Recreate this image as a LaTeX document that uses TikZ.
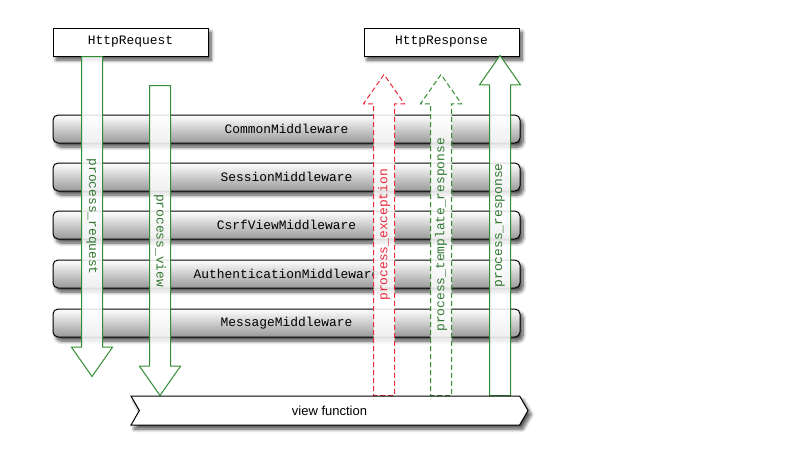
\documentclass[tikz,border=0pt]{standalone}
\usepackage{fontspec}
\setmainfont{Liberation Sans}
\setmonofont{Liberation Mono}
\usetikzlibrary{calc,shapes.arrows,shapes.symbols,shadows,shadows.blur}

\definecolor{flowgreen}{RGB}{50,140,50}
\definecolor{labelgreen}{RGB}{50,120,50}
\definecolor{flowred}{RGB}{235,40,60}

\tikzset{
    codefont/.style={font=\ttfamily\fontsize{12.9}{15}\selectfont},
    softshadow/.style={blur shadow={shadow blur steps=8, shadow blur radius=3.5pt,
        shadow xshift=3pt, shadow yshift=-4pt, shadow opacity=70}},
    endpoint/.style={draw, line width=1pt, fill=white, codefont, minimum width=155pt,
        minimum height=28pt, softshadow},
    middleware/.style={draw, line width=1pt, rounded corners=5pt, codefont, minimum width=467pt,
        minimum height=28pt, top color=white, middle color=black!8, bottom color=black!40,
        softshadow},
    flow/.style={single arrow, draw=flowgreen, line width=1pt, fill=white, fill opacity=0.85,
        single arrow tip angle=70, single arrow head extend=10pt, text height=8pt,
        text depth=2pt, inner ysep=5pt, inner xsep=0pt, anchor=tail},
    down/.style={flow, rotate=-90},
    up/.style={flow, rotate=90},
    hookdashed/.style={dash pattern=on 5pt off 3pt},
    hooklabel/.style={codefont, text=labelgreen, inner sep=0pt},
}

\begin{document}
\begin{tikzpicture}[x=1pt, y=-1pt]
    \useasboundingbox (0,0) rectangle (800,451);

    % middleware stack
    \node[middleware] (common) at (286.5,129) {CommonMiddleware};
    \node[middleware] (session) at (286.5,177) {SessionMiddleware};
    \node[middleware] (csrf) at (286.5,225) {CsrfViewMiddleware};
    \node[middleware] (auth) at (286.5,274) {AuthenticationMiddleware};
    \node[middleware] (message) at (286.5,323) {MessageMiddleware};

    % request and response
    \node[endpoint] (request) at (130.5,42) {HttpRequest};
    \node[endpoint] (response) at (441.5,42) {HttpResponse};

    % hooks
    \node[down, minimum height=320pt] (preq) at (92,56) {};
    \node[down, minimum height=310pt] (pview) at (160,85) {};
    \node[up, minimum height=321pt, draw=flowred, hookdashed] (pexc) at (384,396) {};
    \node[up, minimum height=321pt, hookdashed] (ptmpl) at (441,396) {};
    \node[up, minimum height=340pt] (presp) at (500,396) {};

    \node[hooklabel, rotate=-90] (preqlabel) at ($(preq.tail)!0.5!(preq.tip)$) {process\_request};
    \node[hooklabel, rotate=-90] (pviewlabel) at ($(pview.tail)!0.5!(pview.tip)$) {process\_view};
    \node[hooklabel, rotate=90, text=flowred] (pexclabel) at ($(pexc.tail)!0.5!(pexc.tip)$) {process\_exception};
    \node[hooklabel, rotate=90] (ptmpllabel) at ($(ptmpl.tail)!0.5!(ptmpl.tip)$) {process\_template\_response};
    \node[hooklabel, rotate=90] (presplabel) at ($(presp.tail)!0.5!(presp.tip)$) {process\_response};

    \node[signal, signal to=east, signal from=west, signal pointer angle=120, draw, line width=1pt,
        fill=white, minimum width=397pt, minimum height=29pt, font=\fontsize{13}{15}\selectfont,
        softshadow] (view) at (329.5,410.5) {view function};

\end{tikzpicture}
\end{document}
